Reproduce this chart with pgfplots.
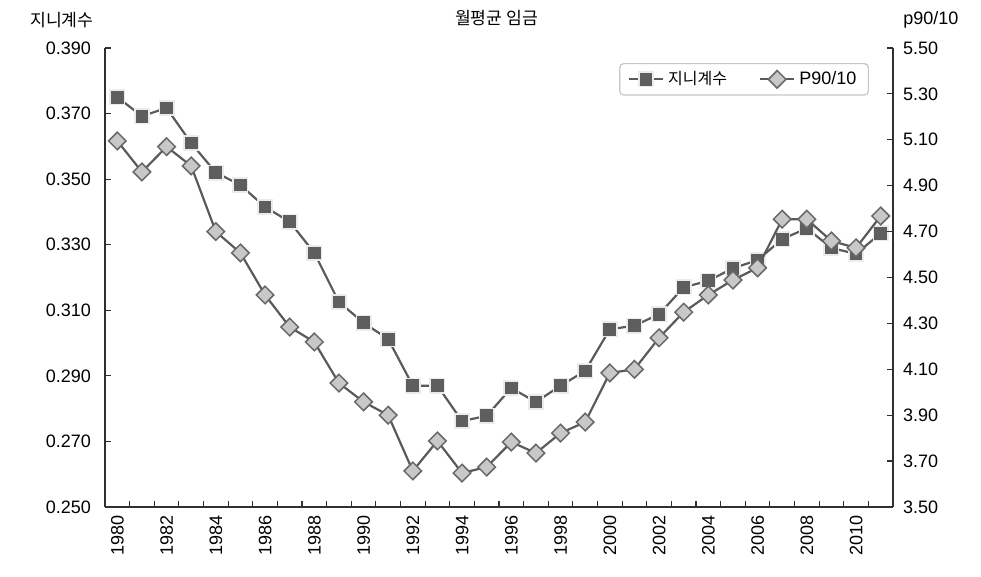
\documentclass[border=0pt]{standalone}
\usepackage{pgfplots}
\pgfplotsset{compat=1.18}
\usepackage{fontspec}
\setmainfont{Liberation Sans}
\newfontfamily\kr{Noto Sans CJK KR}
\definecolor{lineg}{HTML}{5A5A5A}
\definecolor{sqfill}{HTML}{5E5E5E}
\definecolor{dmfill}{HTML}{C8C8C8}
\definecolor{dmdraw}{HTML}{686868}
\definecolor{axg}{HTML}{303030}

\pgfplotstableread{
year gini
1980 0.3750
1981 0.3692
1982 0.3717
1983 0.3610
1984 0.3520
1985 0.3482
1986 0.3415
1987 0.3370
1988 0.3275
1989 0.3125
1990 0.3062
1991 0.3012
1992 0.2870
1993 0.2870
1994 0.2762
1995 0.2778
1996 0.2863
1997 0.2820
1998 0.2870
1999 0.2915
2000 0.3042
2001 0.3053
2002 0.3088
2003 0.3170
2004 0.3190
2005 0.3228
2006 0.3253
2007 0.3317
2008 0.3350
2009 0.3290
2010 0.3272
2011 0.3335
}\ginitable

\pgfplotstableread{
year p
1980 5.095
1981 4.960
1982 5.070
1983 4.986
1984 4.700
1985 4.607
1986 4.424
1987 4.284
1988 4.219
1989 4.040
1990 3.958
1991 3.900
1992 3.657
1993 3.788
1994 3.648
1995 3.674
1996 3.783
1997 3.735
1998 3.822
1999 3.870
2000 4.084
2001 4.100
2002 4.237
2003 4.349
2004 4.424
2005 4.489
2006 4.542
2007 4.754
2008 4.754
2009 4.659
2010 4.629
2011 4.768
}\ptable

\pgfplotsset{
  ginistyle/.style={color=lineg, line width=1.1pt, mark=square*, mark size=3.6pt,
    mark options={draw=white!92!black, fill=sqfill, line width=0.8pt, solid}},
  p90style/.style={color=lineg, line width=1.1pt, mark=square*, mark size=3.1pt,
    mark options={rotate=45, draw=dmdraw, fill=dmfill, line width=0.75pt, solid}},
  base/.style={
    width=394pt, height=229.5pt, scale only axis,
    xmin=1979.5, xmax=2011.5,
    font=\fontsize{9}{10.8}\selectfont,
    /pgf/number format/assume math mode=true,
    tick align=inside,
    major tick length=3pt, minor tick length=3pt,
    axis line style={color=axg, line width=0.7pt},
    every tick/.style={color=axg, line width=0.6pt},
    clip=false,
  }
}

\begin{document}
\begin{tikzpicture}
\begin{axis}[base, name=ax,
  axis x line*=bottom, axis y line*=left,
  ymin=0.25, ymax=0.39,
  ytick={0.25,0.27,0.29,0.31,0.33,0.35,0.37,0.39},
  yticklabel style={xshift=-3.5pt, /pgf/number format/.cd, fixed, fixed zerofill, precision=3},
  xtick={1980,1982,1984,1986,1988,1990,1992,1994,1996,1998,2000,2002,2004,2006,2008,2010},
  xticklabels={1980,1982,1984,1986,1988,1990,1992,1994,1996,1998,2000,2002,2004,2006,2008,2010},
  major x tick style={draw=none},
  minor xtick={1979.5,1980.5,...,2011.5},
  xticklabel style={rotate=90, anchor=east, xshift=-0.5pt},
]
\addplot[ginistyle] table[x=year, y=gini] {\ginitable};
\node[font=\kr\fontsize{8.6}{9}\selectfont] at (rel axis cs:-0.0546,1.061) {지니계수};
\node[font=\kr\fontsize{8.6}{9}\selectfont] at (rel axis cs:0.497,1.065) {월평균 임금};
\end{axis}

\begin{axis}[base,
  axis x line=none, axis y line*=right,
  ymin=3.5, ymax=5.5,
  ytick={3.5,3.7,3.9,4.1,4.3,4.5,4.7,4.9,5.1,5.3,5.5},
  yticklabel style={xshift=1.5pt, /pgf/number format/.cd, fixed, fixed zerofill, precision=2},
  legend columns=2,
  legend style={at={(0.9695,0.9673)}, anchor=north east,
    draw=gray!45, line width=0.6pt, rounded corners=2pt,
    font=\fontsize{9}{10.8}\selectfont, inner xsep=4pt, inner ysep=1.8pt,
    /tikz/every even column/.append style={column sep=14pt}},
  legend cell align=left,
]
\addlegendimage{ginistyle}
\addlegendentry{\kr\fontsize{8}{9}\selectfont 지니계수}
\addplot[p90style] table[x=year, y=p] {\ptable};
\addlegendentry{P90/10}
\node[font=\fontsize{9}{10.8}\selectfont] at (rel axis cs:1.048,1.061) {p90/10};
\end{axis}

\path (ax.south west) ++(-52.5pt,-35pt) coordinate (bbA);
\path (ax.north east) ++(44pt,24pt) coordinate (bbB);
\pgfresetboundingbox
\useasboundingbox (bbA) rectangle (bbB);
\end{tikzpicture}
\end{document}
